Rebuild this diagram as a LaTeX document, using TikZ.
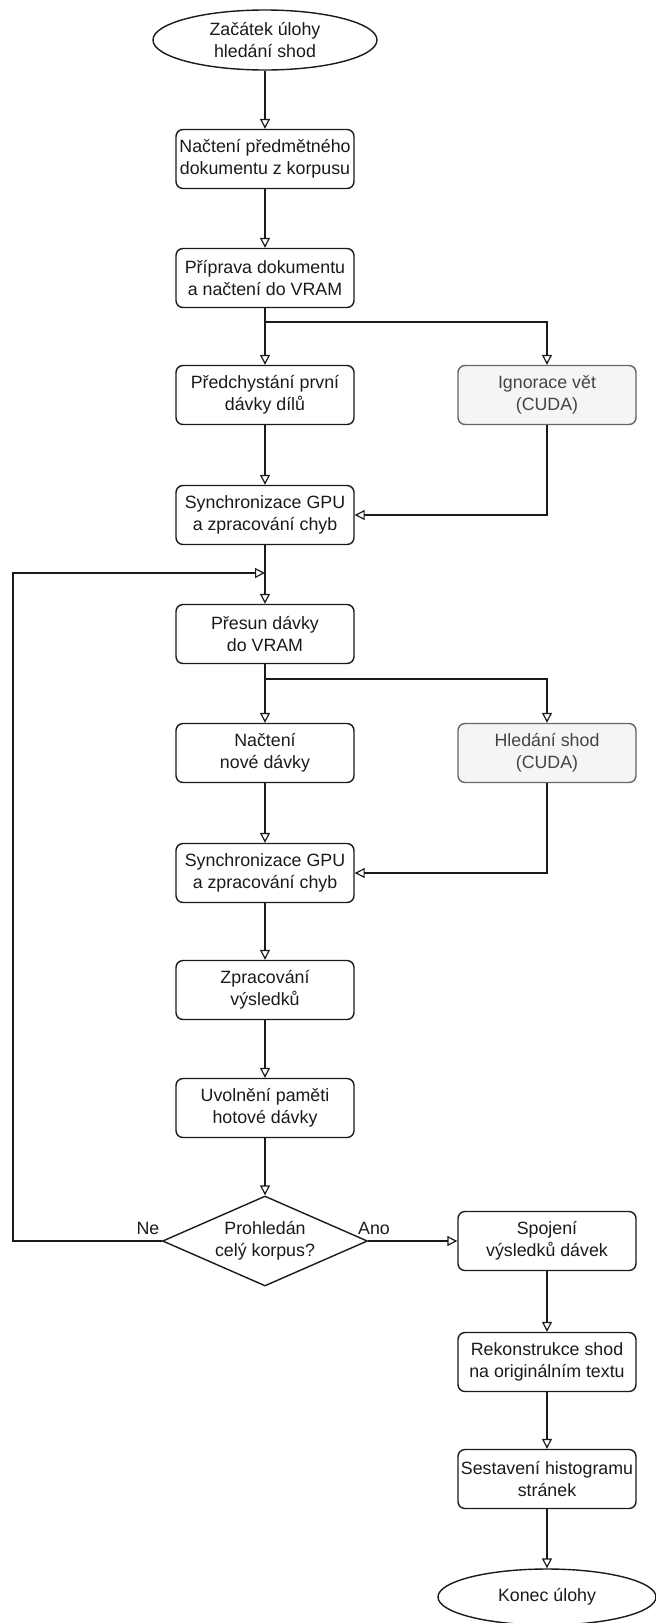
\documentclass[tikz,border=0pt]{standalone}
\usepackage{fontspec}
\setmainfont{Liberation Sans}
\usetikzlibrary{arrows.meta,shapes.geometric}
\definecolor{ink}{HTML}{1A1A1A}
\definecolor{cudafill}{HTML}{F5F5F5}
\definecolor{cudaline}{HTML}{666666}
\definecolor{cudatext}{HTML}{444444}
\tikzset{
  base/.style={draw=ink, line width=1.4pt, text=ink, align=center,
    font=\fontsize{17.8pt}{22pt}\selectfont, inner sep=0pt},
  stepbox/.style={base, rounded corners=7pt, minimum width=178pt, minimum height=59pt},
  cudabox/.style={stepbox, draw=cudaline, fill=cudafill, text=cudatext},
  terminal/.style={base, ellipse, minimum width=224pt, minimum height=60pt},
  decision/.style={base, diamond, minimum width=205pt, minimum height=90pt},
  flow/.style={draw=ink, line width=1.4pt,
    -{Triangle[open,length=10pt,width=10pt,line width=1.2pt]}},
  branchlbl/.style={text=ink, font=\fontsize{17.8pt}{22pt}\selectfont}
}
\begin{document}
\begin{tikzpicture}[x=1pt,y=-1pt]
\useasboundingbox (0,0) rectangle (656,1623);

% main column
\node[terminal] (start) at (265,40)  {Začátek úlohy\\hledání shod};
\node[stepbox]  (load)  at (265,159) {Načtení předmětného\\dokumentu z korpusu};
\node[stepbox]  (prep)  at (265,278) {Příprava dokumentu\\a načtení do VRAM};
\node[stepbox]  (pre)   at (265,395) {Předchystání první\\dávky dílů};
\node[cudabox]  (ign)   at (547,395) {Ignorace vět\\(CUDA)};
\node[stepbox]  (sync1) at (265,515) {Synchronizace GPU\\a zpracování chyb};
\node[stepbox]  (move)  at (265,634) {Přesun dávky\\do VRAM};
\node[stepbox]  (next)  at (265,753) {Načtení\\nové dávky};
\node[cudabox]  (find)  at (547,753) {Hledání shod\\(CUDA)};
\node[stepbox]  (sync2) at (265,873) {Synchronizace GPU\\a zpracování chyb};
\node[stepbox]  (proc)  at (265,990) {Zpracování\\výsledků};
\node[stepbox]  (free)  at (265,1108) {Uvolnění paměti\\hotové dávky};
\node[decision, label={[base,draw=none]center:Prohledán\\celý korpus?}] (done) at (265,1241) {};

% right column after the loop
\node[stepbox]  (join)  at (547,1241) {Spojení\\výsledků dávek};
\node[stepbox]  (rec)   at (547,1362) {Rekonstrukce shod\\na originálním textu};
\node[stepbox]  (hist)  at (547,1479) {Sestavení histogramu\\stránek};
\node[terminal, minimum width=218pt, minimum height=56pt] (stop) at (547,1597) {Konec úlohy};

% split and merge points
\coordinate (split1) at (265,322);
\coordinate (split2) at (265,679);
\coordinate (loopin) at (265,573);
\coordinate (loopcorner) at (13,573);

% connectors
\draw[flow] (start) -- (load);
\draw[flow] (load) -- (prep);
\draw[flow] (prep) -- (pre);
\draw[flow] (split1) -| (ign.north);
\draw[flow] (pre) -- (sync1);
\draw[flow] (ign.south) |- (sync1.east);
\draw[flow] (sync1) -- (move);
\draw[flow] (move) -- (next);
\draw[flow] (split2) -| (find.north);
\draw[flow] (next) -- (sync2);
\draw[flow] (find.south) |- (sync2.east);
\draw[flow] (sync2) -- (proc);
\draw[flow] (proc) -- (free);
\draw[flow] (free) -- (done);
\draw[flow] (done.west) -| (loopcorner) -- (loopin);
\draw[flow] (done.east) -- (join.west);
\draw[flow] (join) -- (rec);
\draw[flow] (rec) -- (hist);
\draw[flow] (hist) -- (stop);

% branch labels
\node[branchlbl] (ne)  at (148,1228) {Ne};
\node[branchlbl] (ano) at (374,1228) {Ano};
\end{tikzpicture}
\end{document}
